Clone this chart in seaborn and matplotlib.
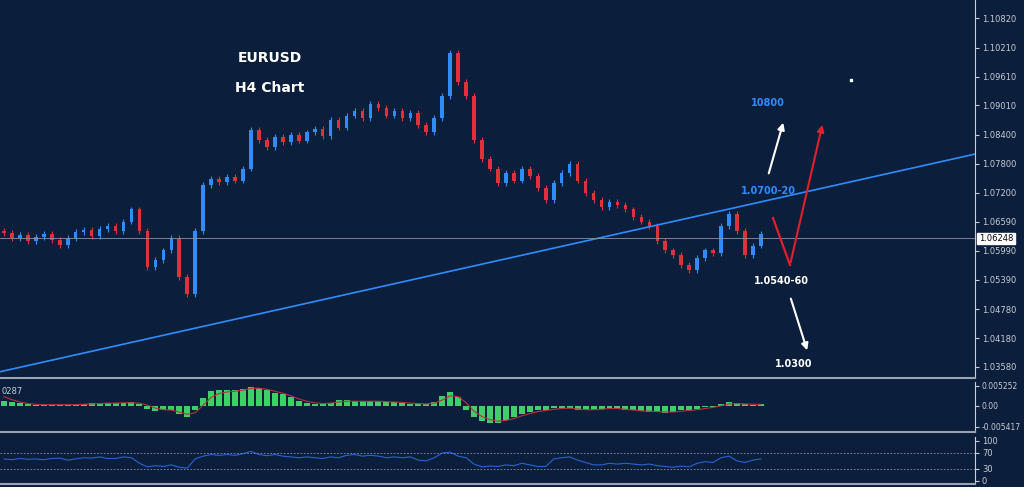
import numpy as np
import pandas as pd
import matplotlib
matplotlib.use("Agg")
import matplotlib.pyplot as plt
import seaborn as sns

closes = [1.0636, 1.0625, 1.0632, 1.0620, 1.0628, 1.0635, 1.0622, 1.0612, 1.0626, 1.0638,
          1.0642, 1.0630, 1.0645, 1.0650, 1.0640, 1.0660, 1.0685, 1.0640, 1.0565, 1.0580,
          1.0600, 1.0625, 1.0545, 1.0510, 1.0640, 1.0735, 1.0748, 1.0742, 1.0752, 1.0745,
          1.0770, 1.0850, 1.0830, 1.0815, 1.0835, 1.0825, 1.0840, 1.0828, 1.0845, 1.0852,
          1.0838, 1.0870, 1.0855, 1.0880, 1.0890, 1.0875, 1.0905, 1.0895, 1.0880, 1.0890,
          1.0875, 1.0885, 1.0860, 1.0845, 1.0875, 1.0920, 1.1010, 1.0950, 1.0920, 1.0830,
          1.0790, 1.0770, 1.0740, 1.0760, 1.0745, 1.0770, 1.0755, 1.0730, 1.0705, 1.0740,
          1.0760, 1.0780, 1.0745, 1.0720, 1.0705, 1.0690, 1.0700, 1.0695, 1.0685, 1.0670,
          1.0660, 1.0650, 1.0620, 1.0600, 1.0590, 1.0570, 1.0560, 1.0585, 1.0600, 1.0595,
          1.0650, 1.0675, 1.0640, 1.0590, 1.0610, 1.0635]

macd_hist = [0.0012, 0.0010, 0.0007, 0.0004, 0.0003, 0.0003, 0.0003, 0.0003, 0.0002, 0.0003,
             0.0006, 0.0007, 0.0007, 0.0007, 0.0008, 0.0008, 0.0010, 0.0006, -0.0008, -0.0014,
             -0.0010, -0.0012, -0.0020, -0.0030, -0.0010, 0.0020, 0.0038, 0.0040, 0.0040, 0.0042,
             0.0045, 0.0050, 0.0046, 0.0040, 0.0034, 0.0030, 0.0022, 0.0012, 0.0008, 0.0005,
             0.0006, 0.0008, 0.0015, 0.0014, 0.0012, 0.0013, 0.0012, 0.0013, 0.0010, 0.0010,
             0.0008, 0.0006, 0.0005, 0.0004, 0.0010, 0.0025, 0.0036, 0.0022, -0.0010, -0.0030,
             -0.0040, -0.0044, -0.0045, -0.0038, -0.0030, -0.0022, -0.0016, -0.0012, -0.0010, -0.0006,
             -0.0005, -0.0006, -0.0010, -0.0012, -0.0010, -0.0008, -0.0006, -0.0008, -0.0010, -0.0012,
             -0.0014, -0.0015, -0.0016, -0.0018, -0.0016, -0.0012, -0.0010, -0.0008, -0.0004, -0.0002,
             0.0004, 0.0010, 0.0008, 0.0004, 0.0003, 0.0004]
macd_signal = [0.0024, 0.0016, 0.0010, 0.0006, 0.0004, 0.0003, 0.0003, 0.0003, 0.0003, 0.0003,
               0.0004, 0.0005, 0.0006, 0.0007, 0.0007, 0.0008, 0.0008, 0.0007, 0.0002, -0.0006,
               -0.0010, -0.0011, -0.0016, -0.0022, -0.0018, 0.0002, 0.0022, 0.0032, 0.0036, 0.0038,
               0.0041, 0.0045, 0.0046, 0.0043, 0.0038, 0.0033, 0.0026, 0.0018, 0.0012, 0.0008,
               0.0006, 0.0007, 0.0010, 0.0012, 0.0012, 0.0012, 0.0012, 0.0012, 0.0011, 0.0010,
               0.0009, 0.0007, 0.0006, 0.0005, 0.0007, 0.0015, 0.0026, 0.0024, 0.0008, -0.0014,
               -0.0028, -0.0036, -0.0040, -0.0038, -0.0033, -0.0026, -0.0020, -0.0015, -0.0012, -0.0009,
               -0.0007, -0.0006, -0.0008, -0.0010, -0.0010, -0.0009, -0.0007, -0.0007, -0.0009, -0.0011,
               -0.0013, -0.0014, -0.0015, -0.0016, -0.0016, -0.0014, -0.0012, -0.0010, -0.0007, -0.0004,
               0.0000, 0.0005, 0.0006, 0.0005, 0.0004, 0.0004]
rsi = [55, 53, 56, 54, 55, 53, 56, 57, 52, 55,
       58, 57, 60, 56, 56, 60, 58, 44, 35, 38,
       36, 40, 34, 32, 55, 62, 66, 64, 66, 64,
       68, 74, 66, 63, 66, 62, 60, 58, 60, 58,
       56, 60, 58, 64, 66, 62, 64, 62, 58, 60,
       58, 60, 52, 50, 58, 70, 72, 62, 58, 42,
       35, 37, 36, 40, 38, 44, 40, 36, 36, 55,
       58, 60, 52, 46, 40, 40, 44, 42, 44, 42,
       40, 42, 38, 36, 34, 37, 35, 44, 48, 46,
       58, 62, 50, 46, 52, 55]

price_ticks = [1.10820, 1.10210, 1.09610, 1.09010, 1.08400, 1.07800, 1.07200,
               1.06590, 1.05990, 1.05390, 1.04780, 1.04180, 1.03580]
last_price = 1.06248

BG = "#0b1e3b"
UP = "#2f8cff"
DOWN = "#e0303a"
FG = "#c8cdd6"

n = len(closes)
opens = [closes[0] + 0.0004] + closes[:-1]
df = pd.DataFrame({"i": np.arange(n), "open": opens, "close": closes})
df["up"] = df["close"] >= df["open"]
df["high"] = df[["open", "close"]].max(axis=1) + 0.0006
df["low"] = df[["open", "close"]].min(axis=1) - 0.0006

W, H = 1024, 487
fig = plt.figure(figsize=(W / 100, H / 100), dpi=100, facecolor=BG)
right = 975 / W
ax = fig.add_axes([0, 1 - 378 / H, right, 378 / H], facecolor=BG)
ax2 = fig.add_axes([0, 1 - 432 / H, right, 50 / H], facecolor=BG)
ax3 = fig.add_axes([0, 1 - 484 / H, right, 47 / H], facecolor=BG)
xlim = (-0.5, 975 / 8)

# candles
for _, r in df.iterrows():
    c = UP if r["up"] else DOWN
    ax.vlines(r["i"], r["low"], r["high"], color=c, lw=0.8)
    lo, hi = min(r["open"], r["close"]), max(r["open"], r["close"])
    ax.bar(r["i"], max(hi - lo, 0.00015), bottom=lo, width=0.45, color=c, linewidth=0)

ax.plot([xlim[0], xlim[1]], [1.0348, 1.0800], color="#2f8cff", lw=1.2)
ax.axhline(last_price, color="#8a93a3", lw=0.6)
ax.set_xlim(*xlim)
ax.set_ylim(1.0335, 1.1120)
ax.yaxis.tick_right()
ax.set_yticks(price_ticks)
ax.set_yticklabels([f"{t:.5f}" for t in price_ticks], fontsize=6, color=FG)
ax.set_xticks([])
ax.text(1.004, last_price, f"{last_price:.5f}", transform=ax.get_yaxis_transform(),
        fontsize=6, color="black", va="center",
        bbox=dict(facecolor="white", edgecolor="white", pad=1))

# MACD
ax2.bar(np.arange(n), macd_hist, width=0.75, color="#3ecf6a", linewidth=0)
sns.lineplot(x=np.arange(n), y=macd_signal, ax=ax2, color="#c0303a", lw=0.8)
ax2.set_xlim(*xlim)
ax2.set_ylim(-0.0068, 0.0062)
ax2.yaxis.tick_right()
ax2.set_yticks([0.005252, 0.0, -0.005417])
ax2.set_yticklabels(["0.005252", "0.00", "-0.005417"], fontsize=5.5, color=FG)
ax2.set_xticks([])
ax2.text(0.002, 0.9, "0287", transform=ax2.transAxes, fontsize=6, color=FG, va="top")

# RSI
sns.lineplot(x=np.arange(n), y=rsi, ax=ax3, color="#2a62d6", lw=0.8)
for lvl in (70, 30):
    ax3.axhline(lvl, color="#8a93a3", lw=0.6, ls=(0, (2, 2)))
ax3.set_xlim(*xlim)
ax3.set_ylim(-8, 110)
ax3.yaxis.tick_right()
ax3.set_yticks([100, 70, 30, 0])
ax3.set_yticklabels(["100", "70", "30", "0"], fontsize=6, color=FG)
ax3.set_xticks([])

for a in (ax, ax2, ax3):
    for s in a.spines.values():
        s.set_visible(False)
    a.spines["right"].set_visible(True)
    a.spines["right"].set_color(FG)
    a.spines["bottom"].set_visible(True)
    a.spines["bottom"].set_color("#9aa3b0")
    a.spines["bottom"].set_linewidth(1.5)
    a.tick_params(axis="y", colors=FG, length=3, pad=2)
    a.set_ylabel("")

# overlay annotations in pixel space
ov = fig.add_axes([0, 0, 1, 1], facecolor="none")
ov.set_xlim(0, W)
ov.set_ylim(H, 0)
ov.axis("off")
ov.text(270, 58, "EURUSD", color="white", fontsize=10, fontweight="bold", ha="center", va="center")
ov.text(270, 88, "H4 Chart", color="white", fontsize=10, fontweight="bold", ha="center", va="center")
ov.text(768, 103, "10800", color="#2f8cff", fontsize=7, fontweight="bold", ha="center", va="center")
ov.text(768, 191, "1.0700-20", color="#2f8cff", fontsize=7, fontweight="bold", ha="center", va="center")
ov.text(781, 281, "1.0540-60", color="white", fontsize=7, fontweight="bold", ha="center", va="center")
ov.text(794, 364, "1.0300", color="white", fontsize=7, fontweight="bold", ha="center", va="center")
arr = dict(arrowstyle="-|>", lw=1.5, mutation_scale=10)
ov.annotate("", xy=(784, 120), xytext=(768, 176), arrowprops=dict(color="white", **arr))
ov.annotate("", xy=(808, 353), xytext=(790, 296), arrowprops=dict(color="white", **arr))
ov.plot([773, 790], [218, 265], color="#e0202a", lw=1.6)
ov.annotate("", xy=(823, 122), xytext=(790, 265), arrowprops=dict(color="#e0202a", **arr))
ov.plot([851], [80], marker="s", ms=1.5, color="white")

fig.savefig("out.png", dpi=100, facecolor=BG)
